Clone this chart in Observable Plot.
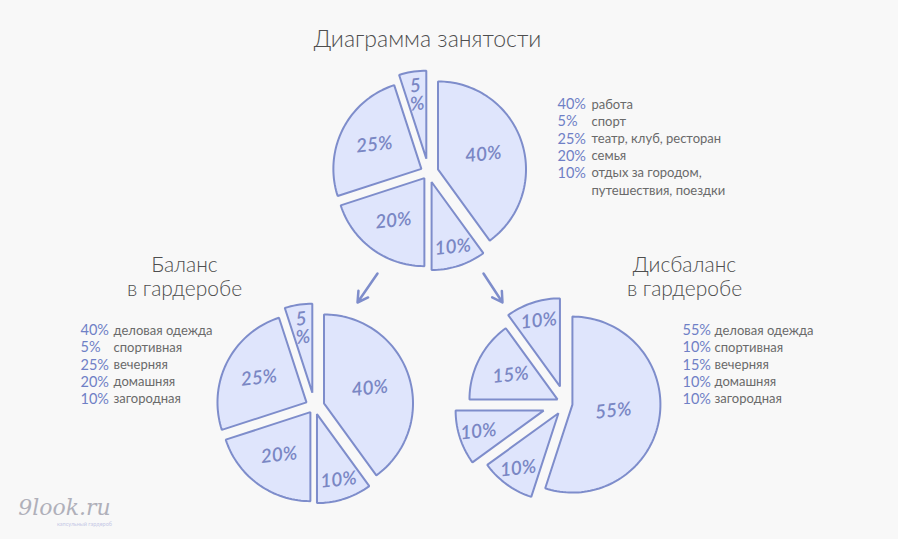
<!DOCTYPE html>
<html><head><meta charset="utf-8">
<script src="https://cdn.jsdelivr.net/npm/d3@7"></script>
<script src="https://cdn.jsdelivr.net/npm/@observablehq/plot@0.6"></script>
<style>html,body{margin:0;padding:0;background:#f8f8f8;}</style>
</head><body><div id="chart"></div>
<script>
// ---- data ----
const chartTitle = "Диаграмма занятости";
const activityLabels = ["работа", "спорт", "театр, клуб, ресторан", "семья", "отдых за городом,\nпутешествия, поездки"];
const activityValues = [40, 5, 25, 20, 10];
const balanceTitle = "Баланс\nв гардеробе";
const balanceLabels = ["деловая одежда", "спортивная", "вечерняя", "домашняя", "загородная"];
const balanceValues = [40, 5, 25, 20, 10];
const imbalanceTitle = "Дисбаланс\nв гардеробе";
const imbalanceLabels = ["деловая одежда", "спортивная", "вечерняя", "домашняя", "загородная"];
const imbalanceValues = [55, 10, 15, 10, 10];
const watermark = "9look.ru";
const watermarkSub = "капсульный гардероб";

// ---- layout ----
const W = 898, H = 539;
const FILL = "#dfe5fc", STROKE = "#7e8dcb", LABEL = "#7a87c4";
const pies = [
  {key: "a", values: activityValues, labels: activityLabels, cx: 428, cy: 172, r: 88, explode: [10, 14, 8, 7, 10],
   legend: {x: 557, tx: 591, y: 104}, title: {text: chartTitle, x: 427, y: 38, size: 23}},
  {key: "b", values: balanceValues, labels: balanceLabels, cx: 314, cy: 406, r: 89, explode: [10, 14, 9, 7, 8],
   legend: {x: 80, tx: 113, y: 330}, title: {text: balanceTitle, x: 184, y: 276, size: 21}},
  {key: "c", values: imbalanceValues, labels: imbalanceLabels, cx: 565, cy: 403, r: 88, explode: [7, 18, 9, 23, 12],
   legend: {x: 682, tx: 714, y: 330}, title: {text: imbalanceTitle, x: 684, y: 276, size: 21}}
];
const ROW = 17.2;
const clockwiseOrder = [0, 4, 3, 2, 1];
function labelFrac(v) { return v <= 5 ? 0.73 : v <= 10 ? 0.78 : v < 30 ? 0.6 : v < 50 ? 0.54 : 0.47; }

const slicePts = [], sliceLabels = [], legendPct = [], legendTxt = [], titles = [];
for (const p of pies) {
  const total = d3.sum(p.values);
  let a = 0;
  for (const i of clockwiseOrder) {
    const v = p.values[i];
    const a0 = a, a1 = a + v / total * 2 * Math.PI; a = a1;
    const mid = (a0 + a1) / 2, e = p.explode[i];
    const ox = p.cx + e * Math.sin(mid), oy = p.cy - e * Math.cos(mid);
    const id = p.key + i;
    slicePts.push({id, x: ox, y: oy});
    const n = Math.max(2, Math.ceil((a1 - a0) / (Math.PI / 90)));
    for (let k = 0; k <= n; k++) {
      const t = a0 + (a1 - a0) * k / n;
      slicePts.push({id, x: ox + p.r * Math.sin(t), y: oy - p.r * Math.cos(t)});
    }
    const lr = p.r * labelFrac(v);
    sliceLabels.push({x: ox + lr * Math.sin(mid), y: oy - lr * Math.cos(mid), text: v === 5 ? "5\n%" : v + "%"});
  }
  let row = 0;
  p.values.forEach((v, i) => {
    legendPct.push({x: p.legend.x, y: p.legend.y + row * ROW, text: v + "%"});
    for (const line of p.labels[i].split("\n")) {
      legendTxt.push({x: p.legend.tx, y: p.legend.y + row * ROW, text: line});
      row++;
    }
  });
  titles.push({x: p.title.x, y: p.title.y, text: p.title.text, size: p.title.size});
}
const arrows = [
  {x1: 377, y1: 273, x2: 357, y2: 302},
  {x1: 483, y1: 273, x2: 502, y2: 302}
];

const chart = Plot.plot({
  width: W, height: H,
  margin: 0,
  x: {domain: [0, W], range: [0, W], axis: null},
  y: {domain: [0, H], range: [0, H], axis: null},
  style: {background: "#f8f8f8", overflow: "visible"},
  marks: [
    Plot.line(slicePts, {x: "x", y: "y", z: "id", curve: "linear-closed", fill: FILL, stroke: STROKE, strokeWidth: 2, strokeLinejoin: "miter"}),
    Plot.text(sliceLabels, {x: "x", y: "y", text: "text", fill: LABEL, fontSize: 19, fontStyle: "italic", fontWeight: 600, fontFamily: "Lato", lineHeight: 0.95, rotate: -6}),
    Plot.arrow(arrows, {x1: "x1", y1: "y1", x2: "x2", y2: "y2", stroke: STROKE, strokeWidth: 2.5, headLength: 12}),
    Plot.text(titles, {x: "x", y: "y", text: "text", fontSize: "size", fill: "#4e4e4e", fontFamily: "Lato", fontWeight: 300, lineHeight: 1.12, ariaLabel: "titles"}),
    Plot.text(legendPct, {x: "x", y: "y", text: "text", textAnchor: "start", fill: "#6f80c6", fontSize: 14.5, fontFamily: "Lato", ariaLabel: "legend-pct"}),
    Plot.text(legendTxt, {x: "x", y: "y", text: "text", textAnchor: "start", fill: "#6a6a6a", fontSize: 13, fontFamily: "Lato", ariaLabel: "legend-text"}),
    Plot.text([{x: 64, y: 507, text: watermark}], {x: "x", y: "y", text: "text", fill: "#b0b0ba", fontSize: 22, fontStyle: "italic", fontFamily: "DejaVu Serif", ariaLabel: "wm"}),
    Plot.text([{x: 84, y: 524, text: watermarkSub}], {x: "x", y: "y", text: "text", fill: "#c5c8e6", fontSize: 5.5, fontFamily: "Lato"})
  ]
});
document.getElementById("chart").appendChild(chart);
d3.select(chart).selectAll('g[aria-label="legend-text"] text').style("letter-spacing", "1.05px");
d3.select(chart).selectAll('g[aria-label="legend-pct"] text').style("letter-spacing", "0.6px");
d3.select(chart).selectAll('g[aria-label="titles"] text').style("letter-spacing", "1px");
</script></body></html>
